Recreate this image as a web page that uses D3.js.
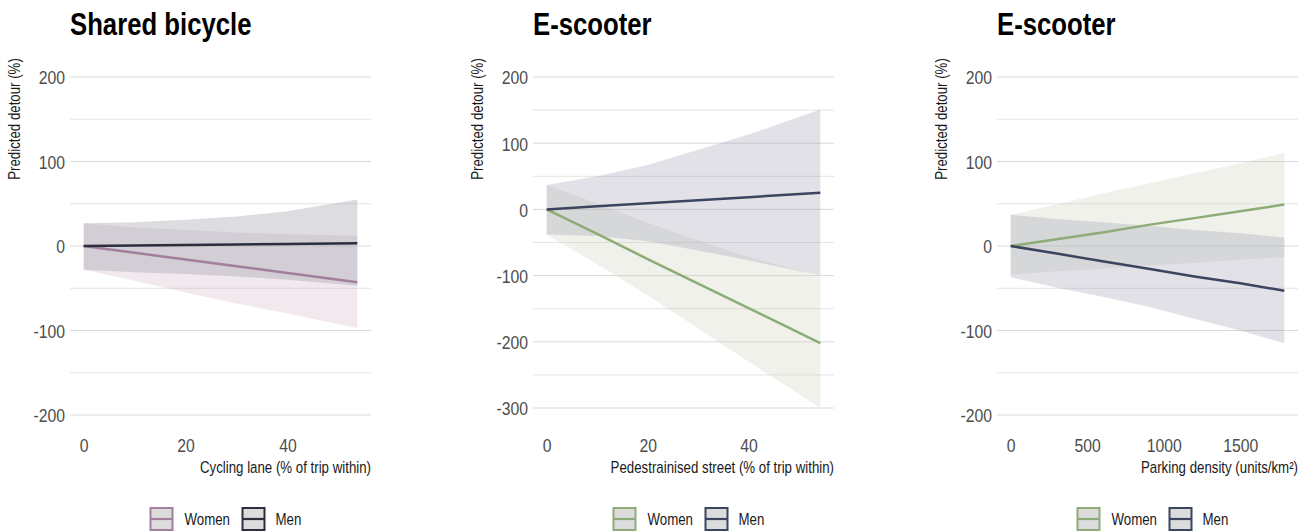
<!DOCTYPE html>
<html>
<head>
<meta charset="utf-8">
<script src="https://cdn.jsdelivr.net/npm/d3@7"></script>
<style>
  body { margin: 0; background: #fff; }
  svg text { font-family: "Liberation Sans", Arial, sans-serif; }
</style>
</head>
<body>
<div id="chart"></div>
<script>
const W = 1309, H = 531
const NARROW = 0.83   // no narrow font installed, squeeze the text instead

// panel 1: shared bicycle vs cycling lane
const bikeX        = [0, 10, 20, 30, 40, 53.7]
const bikeWomen    = [0, -8, -16, -24, -32, -43]
const bikeWomenLo  = [-28, -41, -55, -68, -80, -97]
const bikeWomenHi  = [27, 22, 19, 16, 14, 12]
const bikeMen      = [0, 0.6, 1.2, 1.8, 2.4, 3.2]
const bikeMenLo    = [-28, -31, -33, -36, -40, -47]
const bikeMenHi    = [27, 28, 31, 35, 41, 55]

// panel 2: e-scooter vs pedestrianised street
const pedX         = [0, 10, 20, 30, 40, 54.2]
const pedWomen     = [0, -37, -75, -112, -149, -202]
const pedWomenLo   = [-38, -83, -130, -180, -230, -300]
const pedWomenHi   = [37, 9, -20, -47, -72, -101]
const pedMen       = [0, 4.6, 9.2, 13.8, 18.5, 25]
const pedMenLo     = [-38, -40, -48, -62, -77, -100]
const pedMenHi     = [37, 50, 67, 90, 113, 151]

// panel 3: e-scooter vs parking density
const parkX        = [0, 300, 600, 900, 1200, 1500, 1788]
const parkWomen    = [0, 8, 16, 25, 33, 41, 49]
const parkWomenLo  = [-34, -30, -27, -23, -20, -16, -13]
const parkWomenHi  = [37, 49, 62, 74, 86, 98, 110]
const parkMen      = [0, -9, -18, -27, -36, -44, -53]
const parkMenLo    = [-37, -49, -60, -72, -86, -100, -115]
const parkMenHi    = [37, 32, 28, 24, 19, 15, 10]

const legendLabels = ['Women', 'Men']

const svg = d3.select('#chart').append('svg')
    .attr('width', W)
    .attr('height', H)

const panels = [
    {
        title: 'Shared bicycle', xTitle: 'Cycling lane (% of trip within)',
        left: 70, right: 371, yTop: 77, yBottom: 415, yDomain: [200, -200],
        yTicks: [200, 100, 0, -100, -200], xTicks: [0, 20, 40],
        x: bikeX,
        women: { line: bikeWomen, lo: bikeWomenLo, hi: bikeWomenHi, color: '#a27f9c', fill: '#c7a7bb', op: 0.25 },
        men:   { line: bikeMen,   lo: bikeMenLo,   hi: bikeMenHi,   color: '#2c2e3e', fill: '#9a9aa8', op: 0.35 }
    },
    {
        title: 'E-scooter', xTitle: 'Pedestrainised street (% of trip within)',
        left: 533, right: 834, yTop: 77, yBottom: 408, yDomain: [200, -300],
        yTicks: [200, 100, 0, -100, -200, -300], xTicks: [0, 20, 40],
        x: pedX,
        women: { line: pedWomen, lo: pedWomenLo, hi: pedWomenHi, color: '#8dac77', fill: '#cdd0b9', op: 0.3 },
        men:   { line: pedMen,   lo: pedMenLo,   hi: pedMenHi,   color: '#3b4560', fill: '#9b9baf', op: 0.3 }
    },
    {
        title: 'E-scooter', xTitle: 'Parking density (units/km²)',
        left: 997, right: 1298, yTop: 77, yBottom: 415, yDomain: [200, -200],
        yTicks: [200, 100, 0, -100, -200], xTicks: [0, 500, 1000, 1500],
        x: parkX,
        women: { line: parkWomen, lo: parkWomenLo, hi: parkWomenHi, color: '#8dac77', fill: '#cdd0b9', op: 0.3 },
        men:   { line: parkMen,   lo: parkMenLo,   hi: parkMenHi,   color: '#3b4560', fill: '#9b9baf', op: 0.3 }
    }
]

panels.forEach(p => drawPanel(p))

// place text at (x, y) but squeezed horizontally
function narrowText(sel, x, y) {
    sel.attr('x', 0).attr('y', 0)
        .attr('transform', `translate(${x}, ${y}) scale(${NARROW}, 1)`)
    return sel
}

function drawPanel(p) {
    const g = svg.append('g')

    const xmin = d3.min(p.x), xmax = d3.max(p.x)
    const pad = (xmax - xmin) * 0.05
    const x = d3.scaleLinear()
        .domain([xmin - pad, xmax + pad])
        .range([p.left, p.right])
    const y = d3.scaleLinear()
        .domain(p.yDomain)
        .range([p.yTop, p.yBottom])

    // gridlines, major + minor
    const gridVals = d3.range(p.yDomain[1], p.yDomain[0] + 1, 50)
    g.append('g')
        .selectAll('line')
        .data(gridVals)
        .join('line')
        .attr('x1', p.left)
        .attr('x2', p.right)
        .attr('y1', d => y(d))
        .attr('y2', d => y(d))
        .attr('stroke', d => d % 100 === 0 ? '#d9d9d9' : '#e4e4e4')
        .attr('stroke-width', 1)

    const fmt = d => String(d)

    // y axis labels
    const yAxis = d3.axisLeft(y).tickValues(p.yTicks).tickFormat(fmt).tickSize(0).tickPadding(5)
    g.append('g')
        .attr('transform', `translate(${p.left}, 0)`)
        .call(yAxis)
        .call(a => a.select('.domain').remove())
        .selectAll('text')
        .attr('font-size', 19)
        .attr('fill', '#4d4d4d')
        .attr('dy', '0.36em')
        .attr('x', -5 / NARROW)
        .attr('transform', `scale(${NARROW}, 1)`)

    // x axis labels
    const xAxis = d3.axisBottom(x).tickValues(p.xTicks).tickFormat(fmt).tickSize(0).tickPadding(0)
    g.append('g')
        .attr('transform', `translate(0, ${438})`)
        .call(xAxis)
        .call(a => a.select('.domain').remove())
        .selectAll('text')
        .attr('font-size', 19)
        .attr('fill', '#4d4d4d')
        .attr('dy', '0.71em')
        .attr('transform', `scale(${NARROW}, 1)`)

    const pts = p.x.map((v, i) => i)

    const area = key => d3.area()
        .x(i => x(p.x[i]))
        .y0(i => y(p[key].lo[i]))
        .y1(i => y(p[key].hi[i]))

    const line = key => d3.line()
        .x(i => x(p.x[i]))
        .y(i => y(p[key].line[i]))

    ;['women', 'men'].forEach(k => {
        g.append('path')
            .datum(pts)
            .attr('d', area(k))
            .attr('fill', p[k].fill)
            .attr('fill-opacity', p[k].op)
    })
    ;['women', 'men'].forEach(k => {
        g.append('path')
            .datum(pts)
            .attr('d', line(k))
            .attr('fill', 'none')
            .attr('stroke', p[k].color)
            .attr('stroke-width', 2.5)
    })

    // titles
    g.append('text')
        .attr('font-size', 31)
        .attr('font-weight', 'bold')
        .attr('fill', '#000')
        .text(p.title)
        .call(narrowText, p.left, 35)

    g.append('text')
        .attr('text-anchor', 'middle')
        .attr('font-size', 16)
        .attr('fill', '#1a1a1a')
        .text('Predicted detour (%)')
        .attr('x', 0).attr('y', 0)
        .attr('transform', `translate(${p.left - 50}, ${119}) rotate(-90) scale(${NARROW}, 1)`)

    g.append('text')
        .attr('text-anchor', 'end')
        .attr('font-size', 16)
        .attr('fill', '#1a1a1a')
        .text(p.xTitle)
        .call(narrowText, p.right, 473)

    // legend
    const lx = (p.left + p.right) / 2 + 5 - 76
    const keys = ['women', 'men']
    keys.forEach((k, i) => {
        const ox = lx + i * 92
        const lg = g.append('g').attr('transform', `translate(${ox}, 507)`)
        lg.append('rect')
            .attr('x', 1).attr('y', 1)
            .attr('width', 22).attr('height', 22)
            .attr('fill', '#dcdcdc')
            .attr('stroke', p[k].color)
            .attr('stroke-width', 2)
        lg.append('line')
            .attr('x1', 1).attr('x2', 23)
            .attr('y1', 12).attr('y2', 12)
            .attr('stroke', p[k].color)
            .attr('stroke-width', 2.2)
        lg.append('text')
            .attr('dy', '0.36em')
            .attr('font-size', 16)
            .attr('fill', '#1a1a1a')
            .text(legendLabels[i])
            .call(narrowText, i === 0 ? 35 : 34, 12)
    })
}
</script>
</body>
</html>
